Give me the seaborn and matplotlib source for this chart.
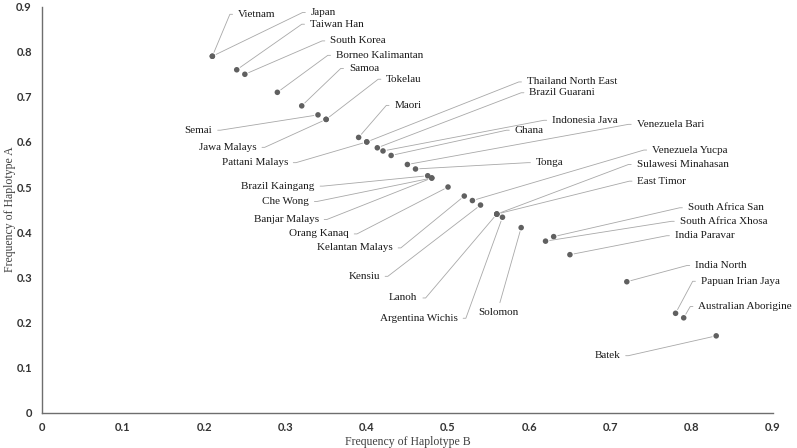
import numpy as np
import pandas as pd
import seaborn as sns
import matplotlib.pyplot as plt

# 数据：各人群的单倍型频率
populations = ["Vietnam", "Japan", "Taiwan Han", "South Korea", "Borneo Kalimantan",
               "Samoa", "Tokelau", "Semai", "Jawa Malays", "Maori", "Pattani Malays",
               "Thailand North East", "Brazil Guarani", "Indonesia Java", "Ghana",
               "Venezuela Bari", "Tonga", "Brazil Kaingang", "Che Wong", "Banjar Malays",
               "Orang Kanaq", "Kelantan Malays", "Venezuela Yucpa", "Kensiu",
               "Sulawesi Minahasan", "East Timor", "Lanoh", "Argentina Wichis", "Solomon",
               "South Africa San", "South Africa Xhosa", "India Paravar", "India North",
               "Papuan Irian Jaya", "Australian Aborigine", "Batek"]
freq_b = [0.21, 0.21, 0.24, 0.25, 0.29, 0.32, 0.35, 0.34, 0.35, 0.39, 0.40, 0.40, 0.413,
          0.42, 0.43, 0.45, 0.46, 0.475, 0.48, 0.48, 0.50, 0.52, 0.53, 0.54, 0.56, 0.56,
          0.56, 0.567, 0.59, 0.63, 0.62, 0.65, 0.72, 0.78, 0.79, 0.83]
freq_a = [0.79, 0.79, 0.76, 0.75, 0.71, 0.68, 0.65, 0.66, 0.65, 0.61, 0.60, 0.60, 0.587,
          0.58, 0.57, 0.55, 0.54, 0.525, 0.52, 0.52, 0.50, 0.48, 0.47, 0.46, 0.44, 0.44,
          0.44, 0.433, 0.41, 0.39, 0.38, 0.35, 0.29, 0.22, 0.21, 0.17]

# 标签放置位置（数据坐标）及其相对数据点的方向
label_x = [0.2415, 0.331, 0.330, 0.355, 0.362, 0.378, 0.424, 0.210, 0.2645, 0.434, 0.303,
           0.597, 0.600, 0.628, 0.582, 0.732, 0.608, 0.336, 0.329, 0.341, 0.378, 0.432,
           0.751, 0.416, 0.732, 0.733, 0.4625, 0.512, 0.562, 0.795, 0.785, 0.779, 0.804,
           0.811, 0.808, 0.712]
label_y = [0.883, 0.887, 0.861, 0.824, 0.792, 0.763, 0.739, 0.626, 0.588, 0.681, 0.554,
           0.733, 0.709, 0.648, 0.626, 0.639, 0.554, 0.502, 0.468, 0.428, 0.396, 0.365,
           0.582, 0.302, 0.550, 0.513, 0.254, 0.209, 0.222, 0.454, 0.424, 0.392, 0.326,
           0.291, 0.235, 0.126]
label_side = ["r", "r", "r", "r", "r", "r", "r", "l", "l", "r", "l", "r", "r", "r", "r",
              "r", "r", "l", "l", "l", "l", "l", "r", "l", "r", "r", "l", "l", "b", "r",
              "r", "r", "r", "r", "r", "l"]

df = pd.DataFrame({"pop": populations, "B": freq_b, "A": freq_a})

sns.set_style("white")
plt.rcParams["font.family"] = ["Liberation Serif", "DejaVu Sans"]

fig = plt.figure(figsize=(7.97, 4.48), dpi=100)
ax = fig.add_axes([0.0523, 0.0792, 0.9177, 0.906])

sns.scatterplot(data=df, x="B", y="A", ax=ax, color="#606060", s=16,
                edgecolor="none", zorder=3)

ax.set_xlim(0, 0.9)
ax.set_ylim(0, 0.9)
ticks = [0, 0.1, 0.2, 0.3, 0.4, 0.5, 0.6, 0.7, 0.8, 0.9]
ticklabels = ["0", "0.1", "0.2", "0.3", "0.4", "0.5", "0.6", "0.7", "0.8", "0.9"]
ax.set_xticks(ticks)
ax.set_xticklabels(ticklabels)
ax.set_yticks(ticks)
ax.set_yticklabels(ticklabels)
for lab in ax.get_xticklabels() + ax.get_yticklabels():
    lab.set_fontfamily("Lato")
    lab.set_fontweight("bold")
    lab.set_fontsize(8)
    lab.set_color("#333333")
ax.tick_params(length=0, pad=7)

for s in ["top", "right"]:
    ax.spines[s].set_visible(False)
for s in ["left", "bottom"]:
    ax.spines[s].set_color("#6e6e6e")
    ax.spines[s].set_linewidth(1.0)

ax.set_xlabel("Frequency of Haplotype B", fontsize=8.5, color="#404040")
ax.set_ylabel("Frequency of Haplotype A", fontsize=8.5, color="#404040")
ax.xaxis.set_label_coords(0.5, -0.072)
ax.xaxis.label.set_va("center")
ax.yaxis.set_label_coords(-0.0433, 0.5)
ax.yaxis.label.set_va("center")

# 带引导线的数据标签
line_col = "#a8a8a8"
gap_pt = 1.5
seg_px = 6
to_px = ax.transData.transform
for name, x, y, tx, ty, side in zip(populations, freq_b, freq_a, label_x, label_y, label_side):
    if side == "b":
        ax.annotate(name, (x, y), xytext=(tx, ty), textcoords="data", ha="center",
                    va="center", fontsize=8, color="#1a1a1a",
                    arrowprops=dict(arrowstyle="-", color=line_col, lw=0.6,
                                    shrinkA=1.5, shrinkB=3, relpos=(0.5, 1.0)))
        continue
    ha = "left" if side == "r" else "right"
    sign = -1 if side == "r" else 1
    px, py = to_px((x, y))
    qx, qy = to_px((tx, ty))
    cx = qx + sign * (gap_pt * 100 / 72 + seg_px)
    ang = np.degrees(np.arctan2(qy - py, cx - px))
    ax.annotate(name, (x, y), xytext=(tx, ty), textcoords="data", ha=ha, va="center",
                fontsize=8, color="#1a1a1a",
                arrowprops=dict(arrowstyle="-", color=line_col, lw=0.6,
                                shrinkA=gap_pt, shrinkB=3,
                                relpos=(0 if side == "r" else 1, 0.5),
                                connectionstyle=f"angle,angleA=0,angleB={ang:.2f},rad=0"))

plt.savefig("out.png", dpi=100)
